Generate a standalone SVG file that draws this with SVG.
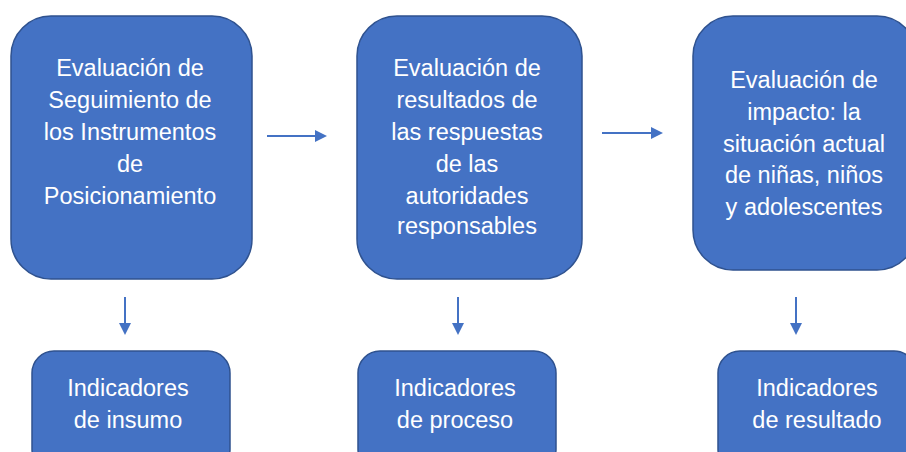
<svg xmlns="http://www.w3.org/2000/svg" width="906" height="452" viewBox="0 0 906 452">
<defs>
<style>
.box{fill:#4472C4;stroke:#2F528F;stroke-width:1.5}
.t{font-family:"Liberation Sans",Arial,sans-serif;font-size:23.5px;fill:#FFFFFF;text-anchor:middle}
.c{stroke:#4472C4;stroke-width:2;fill:none}
</style>
<marker id="ah" markerWidth="12" markerHeight="12" refX="10" refY="6" orient="auto" markerUnits="userSpaceOnUse">
<path d="M0,0 L12,6 L0,12 Z" fill="#4472C4"/>
</marker>
</defs>
<rect width="906" height="452" fill="#FFFFFF"/>
<g id="connectors">
<line class="c" x1="267" y1="136" x2="325" y2="136" marker-end="url(#ah)"/>
<line class="c" x1="602" y1="133" x2="661" y2="133" marker-end="url(#ah)"/>
<line class="c" x1="125" y1="297" x2="125" y2="333" marker-end="url(#ah)"/>
<line class="c" x1="458" y1="297" x2="458" y2="333" marker-end="url(#ah)"/>
<line class="c" x1="796" y1="297" x2="796" y2="333" marker-end="url(#ah)"/>
</g>
<g id="node1">
<rect class="box" x="11" y="16" width="241" height="263" rx="40"/>
<text class="t" x="130" y="76">Evaluación de</text>
<text class="t" x="130" y="108">Seguimiento de</text>
<text class="t" x="130" y="140">los Instrumentos</text>
<text class="t" x="130" y="172">de</text>
<text class="t" x="130" y="204">Posicionamiento</text>
</g>
<g id="node2">
<rect class="box" x="357" y="16" width="225" height="263" rx="40"/>
<text class="t" x="467" y="76">Evaluación de</text>
<text class="t" x="467" y="108">resultados de</text>
<text class="t" x="467" y="140">las respuestas</text>
<text class="t" x="467" y="172">de las</text>
<text class="t" x="467" y="204">autoridades</text>
<text class="t" x="467" y="234">responsables</text>
</g>
<g id="node3">
<rect class="box" x="693" y="16" width="224" height="254" rx="40"/>
<text class="t" x="804" y="88">Evaluación de</text>
<text class="t" x="804" y="120">impacto: la</text>
<text class="t" x="804" y="152">situación actual</text>
<text class="t" x="804" y="183">de niñas, niños</text>
<text class="t" x="804" y="215">y adolescentes</text>
</g>
<g id="node4">
<rect class="box" x="32" y="351" width="198" height="120" rx="22"/>
<text class="t" x="128" y="396">Indicadores</text>
<text class="t" x="128" y="428">de insumo</text>
</g>
<g id="node5">
<rect class="box" x="358" y="351" width="198" height="120" rx="22"/>
<text class="t" x="455" y="396">Indicadores</text>
<text class="t" x="455" y="428">de proceso</text>
</g>
<g id="node6">
<rect class="box" x="718" y="351" width="198" height="120" rx="22"/>
<text class="t" x="817" y="396">Indicadores</text>
<text class="t" x="817" y="428">de resultado</text>
</g>
</svg>
